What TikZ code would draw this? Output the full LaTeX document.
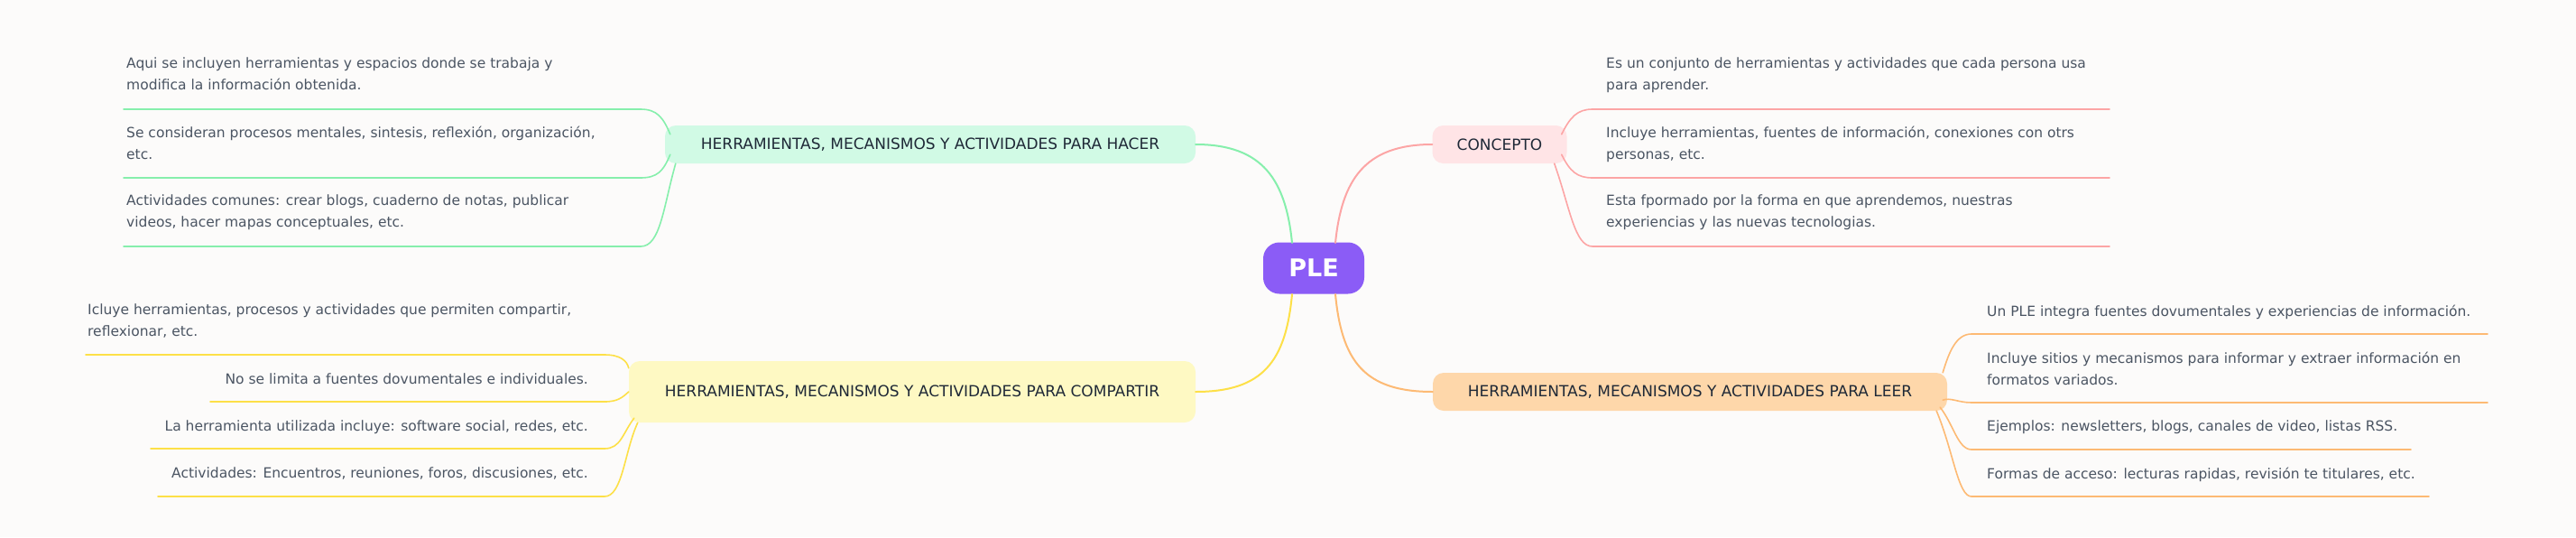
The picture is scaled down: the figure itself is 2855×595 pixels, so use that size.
\documentclass[tikz,border=0pt]{standalone}
\usepackage{fontspec}
\setmainfont{DejaVu Sans}
\definecolor{bg}{HTML}{FCFBFA}
\definecolor{txt}{HTML}{4B5563}
\definecolor{dark}{HTML}{1F2937}
\definecolor{gL}{HTML}{86EFAC}\definecolor{gF}{HTML}{D1FAE5}
\definecolor{pL}{HTML}{FCA5A5}\definecolor{pF}{HTML}{FFE4E6}
\definecolor{oL}{HTML}{FDBA74}\definecolor{oF}{HTML}{FED7AA}
\definecolor{yL}{HTML}{FDE047}\definecolor{yF}{HTML}{FEF9C3}
\definecolor{root}{HTML}{8B5CF6}
\begin{document}
\begin{tikzpicture}[x=1pt,y=-1pt,
  branch/.style={rounded corners=12pt,inner sep=0pt,text=dark,font=\fontsize{17}{20}\selectfont},
  leaf/.style={anchor=north west,inner sep=0pt,text=txt,align=left,font=\fontsize{15.5}{24}\selectfont},
  leafr/.style={anchor=north east,inner sep=0pt,text=txt,align=right,font=\fontsize{15.5}{24}\selectfont},
  con/.style={line width=2pt,line cap=round}]
\fill[bg] (0,0) rectangle (2855,595);
\useasboundingbox (0,0) rectangle (2855,595);
% nodes
\node[fill=root,rounded corners=18pt,minimum width=112pt,minimum height=57pt,text=white,font=\bfseries\fontsize{27}{30}\selectfont] (ple) at (1456,297) {PLE};
\node[branch,fill=pF,minimum width=149pt,minimum height=42pt] (con) at (1662,160) {CONCEPTO};
\node[branch,fill=oF,minimum width=570pt,minimum height=42pt] (lee) at (1873,434) {HERRAMIENTAS, MECANISMOS Y ACTIVIDADES PARA LEER};
\node[branch,fill=gF,minimum width=588pt,minimum height=42pt] (hac) at (1031,160) {HERRAMIENTAS, MECANISMOS Y ACTIVIDADES PARA HACER};
\node[branch,fill=yF,minimum width=628pt,minimum height=68pt] (com) at (1011,434) {HERRAMIENTAS, MECANISMOS Y ACTIVIDADES PARA COMPARTIR};
% root edges
\draw[con,gL] (1432,269) .. controls (1425,200) and (1400,160) .. (hac.east);
\draw[con,pL] (1480,269) .. controls (1487,200) and (1512,160) .. (con.west);
\draw[con,yL] (1432,326) .. controls (1425,400) and (1400,434) .. (com.east);
\draw[con,oL] (1480,326) .. controls (1487,400) and (1512,434) .. (lee.west);
% concepto leaves
\node[leaf] (c1) at (1780,64) {Es un conjunto de herramientas y actividades que cada persona usa\\para aprender.};
\node[leaf] (c2) at (1780,140) {Incluye herramientas, fuentes de información, conexiones con otrs\\personas, etc.};
\node[leaf] (c3) at (1780,216) {Esta fpormado por la forma en que aprendemos, nuestras\\experiencias y las nuevas tecnologias.};
\coordinate (c1e) at (2338,121);\coordinate (c2e) at (2338,197);\coordinate (c3e) at (2338,273);
\draw[con,pL,line width=1.6pt] (con.north east) ++(-6,10) .. controls (1740,130) and (1748,121) .. (1765,121) -- (c1e);
\draw[con,pL,line width=1.6pt] (con.south east) ++(-6,-10) .. controls (1740,190) and (1748,197) .. (1765,197) -- (c2e);
\draw[con,pL,line width=1.6pt] (con.south east) ++(-14,0) .. controls (1740,230) and (1745,273) .. (1765,273) -- (c3e);
% leer leaves
\node[leaf] (l1) at (2202,338) {Un PLE integra fuentes dovumentales y experiencias de información.};
\node[leaf] (l2) at (2202,390) {Incluye sitios y mecanismos para informar y extraer información en\\formatos variados.};
\node[leaf] (l3) at (2202,466) {Ejemplos: newsletters, blogs, canales de video, listas RSS.};
\node[leaf] (l4) at (2202,518) {Formas de acceso: lecturas rapidas, revisión te titulares, etc.};
\coordinate (l1e) at (2757,370);\coordinate (l2e) at (2757,446);\coordinate (l3e) at (2672,498);\coordinate (l4e) at (2692,550);
\draw[con,oL,line width=1.6pt] (lee.north east) ++(-5,0) .. controls (2160,390) and (2168,370) .. (2185,370) -- (l1e);
\draw[con,oL,line width=1.6pt] (lee.south east) ++(-5,-12) .. controls (2162,440) and (2170,446) .. (2185,446) -- (l2e);
\draw[con,oL,line width=1.6pt] (lee.south east) ++(-8,-4) .. controls (2165,470) and (2170,498) .. (2185,498) -- (l3e);
\draw[con,oL,line width=1.6pt] (lee.south east) ++(-12,0) .. controls (2165,500) and (2170,550) .. (2185,550) -- (l4e);
% hacer leaves
\node[leaf] (h1) at (140,64) {Aqui se incluyen herramientas y espacios donde se trabaja y\\modifica la información obtenida.};
\node[leaf] (h2) at (140,140) {Se consideran procesos mentales, sintesis, reflexión, organización,\\etc.};
\node[leaf] (h3) at (140,216) {Actividades comunes: crear blogs, cuaderno de notas, publicar\\videos, hacer mapas conceptuales, etc.};
\coordinate (h1e) at (137,121);\coordinate (h2e) at (137,197);\coordinate (h3e) at (137,273);
\draw[con,gL,line width=1.6pt] (hac.north west) ++(6,10) .. controls (735,130) and (728,121) .. (710,121) -- (h1e);
\draw[con,gL,line width=1.6pt] (hac.south west) ++(6,-10) .. controls (735,190) and (728,197) .. (710,197) -- (h2e);
\draw[con,gL,line width=1.6pt] (hac.south west) ++(12,0) .. controls (735,230) and (732,273) .. (710,273) -- (h3e);
% compartir leaves
\node[leaf] (k1) at (97,337) {Icluye herramientas, procesos y actividades que permiten compartir,\\reflexionar, etc.};
\node[leafr] (k2) at (652,414) {No se limita a fuentes dovumentales e individuales.};
\node[leafr] (k3) at (652,466) {La herramienta utilizada incluye: software social, redes, etc.};
\node[leafr] (k4) at (652,518) {Actividades: Encuentros, reuniones, foros, discusiones, etc.};
\coordinate (k1e) at (95,393);\coordinate (k2e) at (233,445);\coordinate (k3e) at (167,497);\coordinate (k4e) at (175,550);
\draw[con,yL,line width=1.6pt] (com.north west) ++(0,8) .. controls (695,400) and (688,393) .. (670,393) -- (k1e);
\draw[con,yL,line width=1.6pt] (com.west) ++(0,0) .. controls (690,440) and (685,445) .. (670,445) -- (k2e);
\draw[con,yL,line width=1.6pt] (com.south west) ++(6,-5) .. controls (690,480) and (688,497) .. (670,497) -- (k3e);
\draw[con,yL,line width=1.6pt] (com.south west) ++(10,0) .. controls (692,500) and (690,550) .. (670,550) -- (k4e);
\end{tikzpicture}
\end{document}
